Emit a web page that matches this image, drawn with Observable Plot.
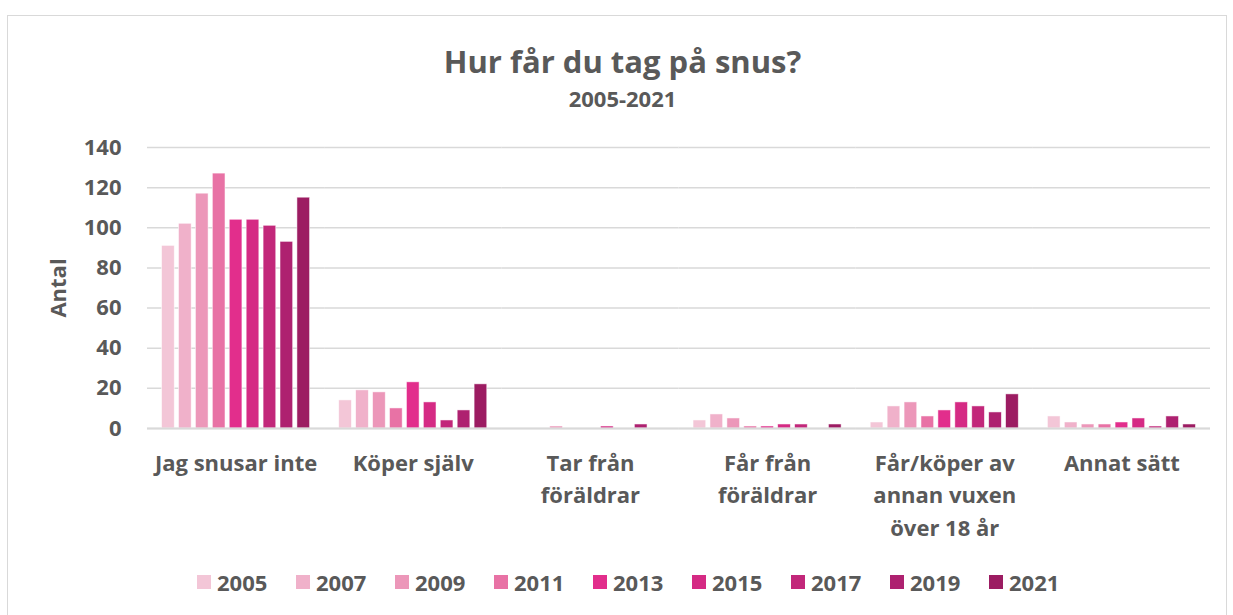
<!DOCTYPE html>
<html>
<head>
<meta charset="utf-8">
<script src="https://cdn.jsdelivr.net/npm/d3@7"></script>
<script src="https://cdn.jsdelivr.net/npm/@observablehq/plot@0.6"></script>
<style>
  html, body { margin: 0; padding: 0; background: #fff; }
  body { width: 1233px; height: 615px; position: relative; overflow: hidden; font-family: "Open Sans", sans-serif; font-weight: bold; color: #595959; }
  #frame { position: absolute; left: 7px; top: 15px; width: 1220px; height: 620px; border: 1.5px solid #D9D9D9; box-sizing: border-box; }
  #title { position: absolute; left: 0; width: 1245px; top: 46px; text-align: center; font-size: 31px; line-height: 31px; }
  #subtitle { position: absolute; left: 0; width: 1245px; top: 87px; text-align: center; font-size: 22px; line-height: 22px; }
  #chart { position: absolute; left: 0; top: 120px; }
  .leg { position: absolute; top: 571px; font-size: 22px; line-height: 22px; white-space: nowrap; }
  .sw { position: absolute; top: 4px; width: 14px; height: 14px; }
  .lt { position: absolute; left: 20px; top: 0; }
</style>
</head>
<body>
<div id="frame"></div>
<div id="title">Hur får du tag på snus?</div>
<div id="subtitle">2005-2021</div>
<div id="chart"></div>
<div id="legend"></div>
<script>
const categories = ["Jag snusar inte", "Köper själv", "Tar från föräldrar", "Får från föräldrar", "Får/köper av annan vuxen över 18 år", "Annat sätt"];
const categoryLabels = ["Jag snusar inte", "Köper själv", "Tar från\nföräldrar", "Får från\nföräldrar", "Får/köper av\nannan vuxen\növer 18 år", "Annat sätt"];
const years = ["2005", "2007", "2009", "2011", "2013", "2015", "2017", "2019", "2021"];
const v2005 = [91, 14, 0, 4, 3, 6];
const v2007 = [102, 19, 0, 7, 11, 3];
const v2009 = [117, 18, 1, 5, 13, 2];
const v2011 = [127, 10, 0, 1, 6, 2];
const v2013 = [104, 23, 0, 1, 9, 3];
const v2015 = [104, 13, 1, 2, 13, 5];
const v2017 = [101, 4, 0, 2, 11, 1];
const v2019 = [93, 9, 2, 0, 8, 6];
const v2021 = [115, 22, 0, 2, 17, 2];
const yTicks = [0, 20, 40, 60, 80, 100, 120, 140];
const colors = ["#F3C6D7", "#F0B1CA", "#EC97B9", "#E872A5", "#E22E8C", "#D52A84", "#C2277A", "#AE2170", "#9C1C62"];

const series = [v2005, v2007, v2009, v2011, v2013, v2015, v2017, v2019, v2021];
const data = [];
years.forEach((yr, i) => categories.forEach((c, j) => data.push({year: yr, cat: c, value: series[i][j]})));
const labelMap = new Map(categories.map((c, i) => [c, categoryLabels[i]]));

const chart = Plot.plot({
  width: 1233,
  height: 430,
  marginTop: 27,
  marginBottom: 122,
  marginLeft: 147,
  marginRight: 23,
  style: {fontFamily: "Open Sans", fontWeight: "bold", fontSize: "22px", color: "#595959", background: "transparent", overflow: "visible"},
  fx: {domain: categories, padding: 0, round: false, label: null},
  x: {domain: years, paddingInner: 0.25, paddingOuter: 0.86, round: false, axis: null},
  y: {domain: [0, 140], label: null},
  color: {domain: years, range: colors},
  marks: [
    Plot.gridY(yTicks, {stroke: "#D9D9D9", strokeOpacity: 1, strokeWidth: 1.5}),
    Plot.barY(data, {fx: "cat", x: "year", y: "value", fill: "year", stroke: "white", strokeWidth: 0.75, strokeOpacity: 0.7}),
    Plot.ruleY([0], {stroke: "#D9D9D9", strokeWidth: 2}),
    Plot.axisY({ticks: yTicks, tickSize: 0, tickPadding: 26, fontSize: 22, fontWeight: "bold", fill: "#595959", label: null}),
    Plot.axisFx({anchor: "bottom", tickSize: 0, tickPadding: 19, tickFormat: c => labelMap.get(c), lineHeight: 1.48, fontSize: 22, fontWeight: "bold", fill: "#595959", label: null}),
    Plot.text([{cat: categories[0], t: "Antal"}], {fx: "cat", text: "t", frameAnchor: "left", textAnchor: "middle", dx: -89, rotate: -90, fontSize: 22, fontWeight: "bold", fill: "#595959"})
  ]
});
document.getElementById("chart").appendChild(chart);

const legend = document.getElementById("legend");
years.forEach((yr, i) => {
  const item = document.createElement("div");
  item.className = "leg";
  item.style.left = (197 + i * 99) + "px";
  const sw = document.createElement("div");
  sw.className = "sw";
  sw.style.background = colors[i];
  const lt = document.createElement("div");
  lt.className = "lt";
  lt.textContent = yr;
  item.appendChild(sw);
  item.appendChild(lt);
  legend.appendChild(item);
});
</script>
</body>
</html>
